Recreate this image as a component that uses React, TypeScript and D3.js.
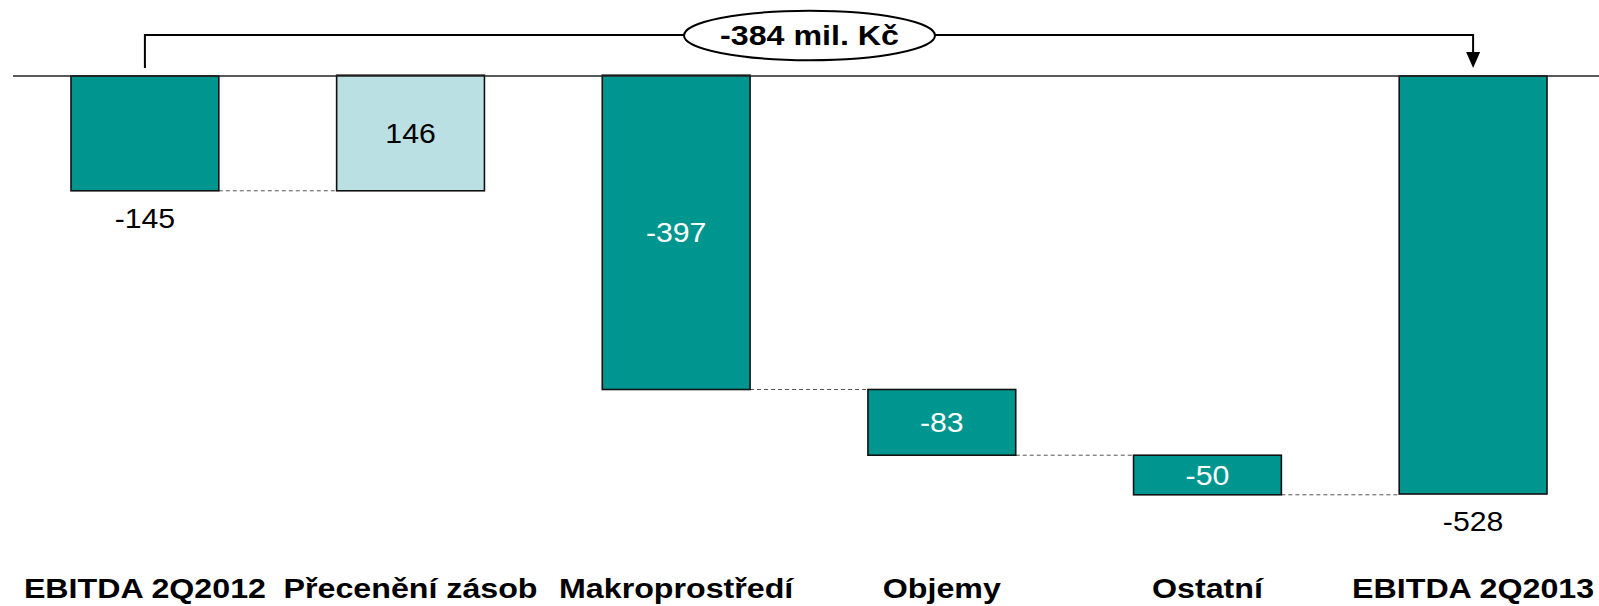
import React from "react";
import * as d3 from "d3";

const categories = ["EBITDA 2Q2012", "Přecenění zásob", "Makroprostředí", "Objemy", "Ostatní", "EBITDA 2Q2013"];
const deltas = [-145, 146, -397, -83, -50, -528];
const isTotal = [true, false, false, false, false, true];
const valueLabels = ["-145", "146", "-397", "-83", "-50", "-528"];
const changeLabel = "-384 mil. Kč";

const W = 1599;
const H = 606;
const TEAL = "#009690";
const LIGHT = "#BBE0E3";
const FONT = "'Liberation Sans', Arial, sans-serif";
const SX = 1.08;
const SXB = 1.15;

export default function App() {
  const x = d3.scaleBand<string>().domain(categories).range([71, 1547]).paddingInner(0.4436).paddingOuter(0);
  const y = d3.scaleLinear().domain([0, -528]).range([76, 494]);

  let running = 0;
  const bars = deltas.map((d, i) => {
    let start: number, end: number;
    if (isTotal[i]) {
      start = 0;
      end = d;
      running = d;
    } else {
      start = running;
      end = running + d;
      running = end;
    }
    return { cat: categories[i], start, end, value: d, label: valueLabels[i], total: isTotal[i] };
  });

  const bw = x.bandwidth();
  const cx = (c: string) => (x(c) as number) + bw / 2;
  const firstC = cx(categories[0]);
  const lastC = cx(categories[categories.length - 1]);
  const bracketY = 35;
  const ellCx = 809.5;

  return (
    <svg width={W} height={H} style={{ position: "absolute", left: 0, top: 0, background: "#fff" }} fontFamily={FONT}>
      <rect x={0} y={0} width={W} height={H} fill="#fff" />

      {/* connectors */}
      {bars.slice(0, -1).map((b, i) => {
        const nb = bars[i + 1];
        const x1 = (x(b.cat) as number) + bw;
        const x2 = x(nb.cat) as number;
        const yy = y(b.end);
        if (Math.abs(yy - y(0)) < 3) return null;
        return <line key={"c" + i} x1={x1} x2={x2} y1={yy} y2={yy} stroke="#555" strokeWidth={1} strokeDasharray="4,3" />;
      })}

      {/* bars */}
      {bars.map((b, i) => {
        const top = Math.min(y(b.start), y(b.end));
        const bot = Math.max(y(b.start), y(b.end));
        return (
          <rect
            key={"b" + i}
            x={x(b.cat)}
            y={top}
            width={bw}
            height={bot - top}
            fill={b.value > 0 ? LIGHT : TEAL}
            stroke="#111"
            strokeWidth={1.6}
          />
        );
      })}

      {/* baseline */}
      <line x1={13} x2={W} y1={y(0)} y2={y(0)} stroke="#222" strokeWidth={1.6} />

      {/* value labels */}
      {bars.map((b, i) => {
        const top = Math.min(y(b.start), y(b.end));
        const bot = Math.max(y(b.start), y(b.end));
        let ty: number, fill: string;
        if (b.total) {
          ty = bot + 37;
          fill = "#000";
        } else {
          ty = (top + bot) / 2 + 10;
          fill = b.value > 0 ? "#000" : "#fff";
        }
        return (
          <text
            key={"v" + i}
            transform={`translate(${cx(b.cat)},${ty}) scale(${SX},1)`}
            textAnchor="middle"
            fontSize={28}
            fill={fill}
          >
            {b.label}
          </text>
        );
      })}

      {/* category labels */}
      {categories.map((c, i) => (
        <text
          key={"k" + i}
          transform={`translate(${cx(c)},598) scale(${SXB},1)`}
          textAnchor="middle"
          fontSize={28}
          fontWeight="bold"
          fill="#000"
        >
          {c}
        </text>
      ))}

      {/* bracket */}
      <path
        d={`M${firstC},68 V${bracketY} H${lastC} V${53}`}
        fill="none"
        stroke="#000"
        strokeWidth={2}
      />
      <path d={`M${lastC - 7},52 L${lastC + 7},52 L${lastC},68 Z`} fill="#000" />
      <ellipse cx={ellCx} cy={35.5} rx={125.5} ry={24.7} fill="#fff" stroke="#000" strokeWidth={2} />
      <text
        transform={`translate(${ellCx},45) scale(${SXB},1)`}
        textAnchor="middle"
        fontSize={28}
        fontWeight="bold"
        fill="#000"
      >
        {changeLabel}
      </text>
    </svg>
  );
}
